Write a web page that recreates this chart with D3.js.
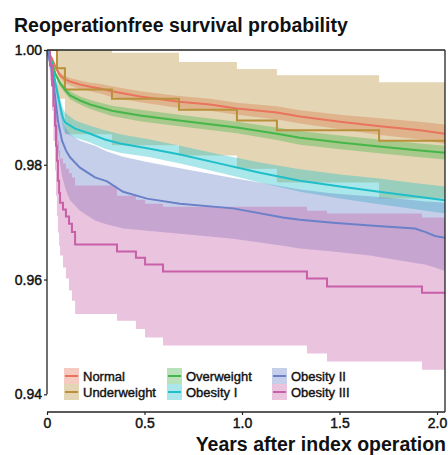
<!DOCTYPE html>
<html><head><meta charset="utf-8">
<script src="https://cdn.jsdelivr.net/npm/d3@7"></script>
<style>body{margin:0;background:#fff}svg{display:block}text{font-family:"Liberation Sans",Arial,Helvetica,sans-serif;fill:#111}</style>
</head><body><svg id="c" width="448" height="455"></svg>
<script>
// ---------------- data ----------------
const groups = ["Normal","Underweight","Overweight","Obesity I","Obesity II","Obesity III"];
const lineColors = ["#E9735D","#B8913A","#45B649","#1FBFCA","#6A80C8","#C760A8"];
const xTicks = [0, 0.5, 1.0, 1.5, 2.0];
const xTickLabels = ["0","0.5","1.0","1.5","2.0"];
const yTicks = [0.94, 0.96, 0.98, 1.00];
const yTickLabels = ["0.94","0.96","0.98","1.00"];

// Normal
const normalTime  = [0,0.026,0.046,0.067,0.092,0.118,0.169,0.221,0.272,0.333,0.477,0.677,0.836,0.974,1.179,1.297,1.503,1.708,1.913,2.041];
const normalSurv  = [1.0,0.9985,0.9968,0.9956,0.9949,0.9945,0.9940,0.9936,0.9933,0.9928,0.9919,0.9910,0.9905,0.9898,0.9891,0.9884,0.9875,0.9867,0.9860,0.9854];
const normalUpper = [1.0,0.9987,0.9971,0.9961,0.9955,0.9951,0.9947,0.9943,0.9941,0.9937,0.9928,0.9920,0.9915,0.9908,0.9902,0.9895,0.9887,0.9881,0.9875,0.9870];
const normalLower = [1.0,0.9983,0.9965,0.9951,0.9942,0.9938,0.9932,0.9928,0.9924,0.9918,0.9909,0.9899,0.9894,0.9887,0.9879,0.9872,0.9862,0.9852,0.9844,0.9836];

// Underweight (step)
const underTime  = [0,0.051,0.092,0.333,0.677,0.974,1.179,1.703,2.041];
const underSurv  = [1.0,0.9968,0.9931,0.9915,0.9896,0.9877,0.9860,0.9842,0.9842];
const underUpper = [1.0,1.0,1.0,0.9995,0.9979,0.9967,0.9956,0.9944,0.9944];
const underLower = [1.0,0.9915,0.9853,0.9834,0.9816,0.9793,0.9769,0.9741,0.9741];

// Overweight
const overTime  = [0,0.026,0.046,0.067,0.092,0.118,0.169,0.221,0.333,0.477,0.677,0.974,1.179,1.297,1.503,1.703,1.913,2.041];
const overSurv  = [1.0,0.9978,0.9956,0.9942,0.9931,0.9921,0.9912,0.9905,0.9894,0.9886,0.9877,0.9865,0.9854,0.9847,0.9839,0.9832,0.9825,0.9821];
const overUpper = [1.0,0.9980,0.9959,0.9947,0.9937,0.9928,0.9919,0.9913,0.9903,0.9896,0.9887,0.9875,0.9865,0.9859,0.9851,0.9844,0.9837,0.9833];
const overLower = [1.0,0.9976,0.9953,0.9937,0.9925,0.9914,0.9905,0.9897,0.9885,0.9876,0.9867,0.9855,0.9843,0.9835,0.9827,0.9820,0.9813,0.9809];

// Obesity I
const ob1Time  = [0,0.021,0.036,0.051,0.067,0.082,0.092,0.144,0.221,0.297,0.374,0.528,0.682,0.887,1.092,1.297,1.503,1.703,1.862,2.041];
const ob1Surv  = [1.0,0.9982,0.9956,0.9929,0.9903,0.9881,0.9874,0.9863,0.9854,0.9844,0.9837,0.9828,0.9818,0.9802,0.9786,0.9772,0.9762,0.9753,0.9746,0.9738];
const ob1Upper = [1.0,0.9985,0.9964,0.9940,0.9917,0.9898,0.9891,0.9877,0.9868,0.9860,0.9853,0.9844,0.9833,0.9818,0.9804,0.9792,0.9783,0.9776,0.9769,0.9762];
const ob1Lower = [1.0,0.9978,0.9947,0.9919,0.9889,0.9863,0.9856,0.9847,0.9839,0.9828,0.9821,0.9813,0.9802,0.9786,0.9769,0.9753,0.9741,0.9731,0.9724,0.9715];

// Obesity II
const ob2Time  = [0,0.026,0.041,0.056,0.077,0.097,0.118,0.169,0.246,0.308,0.390,0.513,0.682,0.954,1.210,1.297,1.467,1.656,1.887,1.938,1.990,2.041];
const ob2Surv  = [1.0,0.9964,0.9921,0.9877,0.9842,0.9825,0.9813,0.9795,0.9778,0.9771,0.9753,0.9741,0.9732,0.9724,0.9708,0.9704,0.9699,0.9694,0.9689,0.9683,0.9676,0.9673];
const ob2Upper = [1.0,0.9978,0.9947,0.9912,0.9881,0.9863,0.9853,0.9842,0.9833,0.9823,0.9814,0.9805,0.9794,0.9777,0.9762,0.9757,0.9750,0.9745,0.9738,0.9736,0.9735,0.9734];
const ob2Lower = [1.0,0.9938,0.9877,0.9825,0.9781,0.9755,0.9738,0.9720,0.9703,0.9696,0.9689,0.9685,0.9680,0.9671,0.9659,0.9654,0.9649,0.9642,0.9629,0.9626,0.9621,0.9615];

// Obesity III (step)
const ob3Time  = [0,0.015,0.026,0.033,0.041,0.046,0.051,0.056,0.062,0.067,0.082,0.097,0.113,0.128,0.144,0.359,0.456,0.503,0.595,1.333,1.436,1.923,2.041];
const ob3Surv  = [1.0,0.9973,0.9938,0.9903,0.9868,0.9833,0.9807,0.9772,0.9751,0.9734,0.9722,0.9710,0.9697,0.9683,0.9661,0.9649,0.9638,0.9626,0.9614,0.9602,0.9588,0.9577,0.9577];
const ob3Upper = [1.0,0.9990,0.9973,0.9947,0.9912,0.9886,0.9868,0.9842,0.9825,0.9811,0.9802,0.9793,0.9785,0.9778,0.9764,0.9746,0.9739,0.9732,0.9727,0.9720,0.9715,0.9708,0.9708];
const ob3Lower = [1.0,0.9947,0.9894,0.9842,0.9790,0.9746,0.9711,0.9682,0.9659,0.9642,0.9621,0.9602,0.9581,0.9563,0.9540,0.9528,0.9514,0.9499,0.9485,0.9471,0.9457,0.9443,0.9443];

// ---------------- chart ----------------
const series = [
  {t:normalTime, s:normalSurv, u:normalUpper, l:normalLower, step:false},
  {t:underTime,  s:underSurv,  u:underUpper,  l:underLower,  step:true},
  {t:overTime,   s:overSurv,   u:overUpper,   l:overLower,   step:false},
  {t:ob1Time,    s:ob1Surv,    u:ob1Upper,    l:ob1Lower,    step:false},
  {t:ob2Time,    s:ob2Surv,    u:ob2Upper,    l:ob2Lower,    step:false},
  {t:ob3Time,    s:ob3Surv,    u:ob3Upper,    l:ob3Lower,    step:true}
];

const svg = d3.select("#c");
const x = d3.scaleLinear().domain([0, 2.041]).range([47, 445]);
const y = d3.scaleLinear().domain([0.94, 1.0]).range([394.3, 50]);
const yBottom = 412;
const FONT = "Liberation Sans, Arial, sans-serif";

svg.append("defs").append("clipPath").attr("id","clip")
  .append("rect").attr("x",47).attr("y",50).attr("width",398).attr("height",yBottom-50);

const plot = svg.append("g").attr("clip-path","url(#clip)");

series.forEach((d,i)=>{
  const pts = d.t.map((t,j)=>({t, s:d.s[j], u:d.u[j], l:d.l[j]}));
  const curve = d.step ? d3.curveStepAfter : d3.curveLinear;
  plot.append("path").datum(pts)
    .attr("fill", lineColors[i]).attr("fill-opacity", 0.38)
    .attr("d", d3.area().curve(curve).x(p=>x(p.t)).y0(p=>y(p.l)).y1(p=>y(p.u)));
});
series.forEach((d,i)=>{
  const pts = d.t.map((t,j)=>({t, s:d.s[j]}));
  const curve = d.step ? d3.curveStepAfter : d3.curveLinear;
  plot.append("path").datum(pts)
    .attr("fill","none").attr("stroke", lineColors[i]).attr("stroke-width", 2)
    .attr("d", d3.line().curve(curve).x(p=>x(p.t)).y(p=>y(p.s)));
});

// frame
svg.append("line").attr("x1",47).attr("x2",445).attr("y1",50).attr("y2",50).attr("stroke","#222").attr("stroke-width",1.3);
svg.append("line").attr("x1",445).attr("x2",445).attr("y1",50).attr("y2",yBottom).attr("stroke","#222").attr("stroke-width",1.3);

// y axis
const yAxis = svg.append("g").attr("transform","translate(47,0)")
  .call(d3.axisLeft(y).tickValues(yTicks).tickSize(3).tickFormat((d,i)=>yTickLabels[i]));
yAxis.select(".domain").remove();
yAxis.append("line").attr("x1",0).attr("x2",0).attr("y1",y(1.0)).attr("y2",y(0.94)).attr("stroke","#222").attr("stroke-width",1.3);
yAxis.selectAll(".tick line").attr("stroke","#222").attr("stroke-width",1.2);
yAxis.selectAll(".tick text").attr("x",-5).attr("font-size",14).attr("fill","#111")
  .attr("stroke","#111").attr("stroke-width",0.45).style("font-family",FONT);

// x axis
const xAxis = svg.append("g").attr("transform",`translate(0,${yBottom})`)
  .call(d3.axisBottom(x).tickValues(xTicks).tickSize(3).tickFormat((d,i)=>xTickLabels[i]));
xAxis.select(".domain").remove();
xAxis.append("line").attr("x1",47).attr("x2",445).attr("y1",0).attr("y2",0).attr("stroke","#222").attr("stroke-width",1.3);
xAxis.selectAll(".tick line").attr("stroke","#222").attr("stroke-width",1.2);
xAxis.selectAll(".tick text").attr("y",6).attr("font-size",14).attr("fill","#111")
  .attr("stroke","#111").attr("stroke-width",0.45).style("font-family",FONT);

// titles
svg.append("text").attr("x",14).attr("y",32).attr("font-size",19.5).attr("font-weight","bold")
  .text("Reoperationfree survival probability");
svg.append("text").attr("x",446).attr("y",451).attr("text-anchor","end").attr("font-size",19.5).attr("font-weight","bold")
  .text("Years after index operation");

// legend
const legCols = [64, 167, 272];
const legRows = [368, 384];
groups.forEach((g,i)=>{
  const cx = legCols[Math.floor(i/2)], cy = legRows[i%2];
  const lg = svg.append("g").attr("transform",`translate(${cx},${cy})`);
  lg.append("rect").attr("width",15).attr("height",16).attr("fill",lineColors[i]).attr("fill-opacity",0.38);
  lg.append("line").attr("x1",1).attr("x2",14).attr("y1",8).attr("y2",8).attr("stroke",lineColors[i]).attr("stroke-width",2);
  lg.append("text").attr("x",19).attr("y",12.5).attr("font-size",13)
    .attr("stroke","#111").attr("stroke-width",0.4).text(g);
});
</script></body></html>
